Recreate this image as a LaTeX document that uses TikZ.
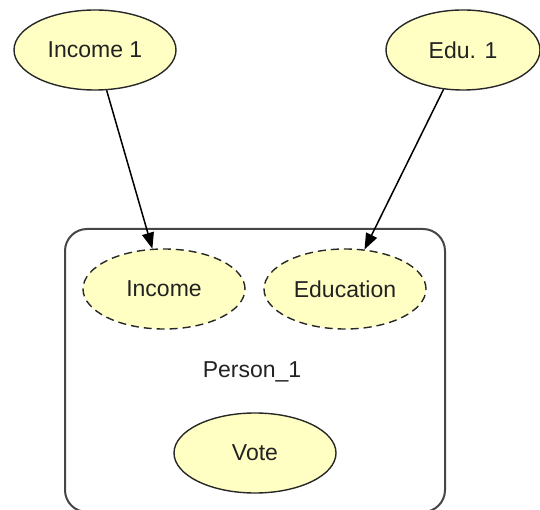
\documentclass[tikz,border=0pt]{standalone}
\usepackage{fontspec}
\setmainfont{Liberation Sans}
\usetikzlibrary{shapes.geometric,arrows.meta}
\definecolor{nodefill}{RGB}{255,255,196}
\definecolor{nodeline}{RGB}{40,40,40}
\definecolor{boxline}{RGB}{70,70,70}
\definecolor{txt}{RGB}{34,34,34}
\tikzset{
  var/.style={ellipse, draw=nodeline, fill=nodefill, line width=1.4pt,
    minimum width=162pt, minimum height=80pt, inner sep=0pt,
    font=\fontsize{23}{27}\selectfont, text=txt},
  latent/.style={var, dashed, dash pattern=on 8pt off 5pt},
  plate/.style={draw=boxline, line width=2pt, rounded corners=22pt},
  link/.style={line width=1.5pt, black, -{Triangle[length=16pt,width=12pt]}}
}
\begin{document}
\begin{tikzpicture}[x=1pt,y=-1pt]
\useasboundingbox (0,0) rectangle (540,510);
\clip (0,0) rectangle (540,510);
\draw[plate] (65,229) rectangle (445,512);
\node[var] (inc1) at (95,50) {Income 1};
\node[var, minimum width=154pt] (edu1) at (463,50) {Edu. 1};
\node[latent] (inc) at (164,289) {Income};
\node[latent] (edu) at (345,289) {Education};
\node[font=\fontsize{23}{27}\selectfont, text=txt] (plabel) at (252,372) {Person\_1};
\node[var] (vote) at (255,453) {Vote};
\draw[link] (inc1) -- (inc);
\draw[link] (edu1) -- (edu);
\end{tikzpicture}
\end{document}
